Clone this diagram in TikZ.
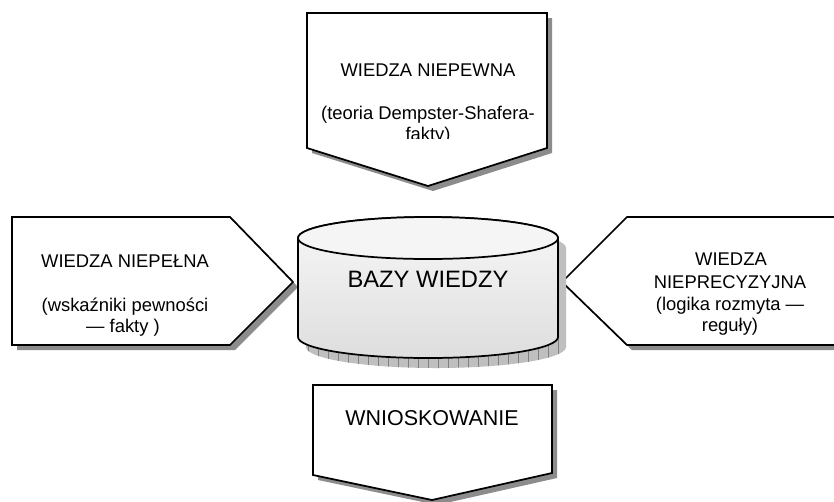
\documentclass[tikz,border=0pt]{standalone}
\usepackage{fontspec}
\setmainfont{Liberation Sans}
\begin{document}
\begin{tikzpicture}[x=0.75pt,y=-0.75pt,
  outline/.style={draw=black,line width=1.3pt,line join=miter},
  dropshadow/.style={fill=black!45},
  lbl/.style={inner sep=0pt,anchor=base,font=\fontsize{13.8pt}{16pt}\selectfont},
  biglbl/.style={inner sep=0pt,anchor=base,font=\fontsize{17.8pt}{21pt}\selectfont},
  midlbl/.style={inner sep=0pt,anchor=base,font=\fontsize{16.1pt}{19pt}\selectfont}]
\clip (0,0) rectangle (834,501);
\fill[white] (0,0) rectangle (834,501);

% --- top arrow: uncertain knowledge ---
\fill[dropshadow,shift={(5,5)}] (307,13) -- (547,13) -- (547,148) -- (428,186) -- (307,148) -- cycle;
\filldraw[outline,fill=white] (307,13) -- (547,13) -- (547,148) -- (428,186) -- (307,148) -- cycle;
\node[lbl] (t1) at (428,76) {WIEDZA NIEPEWNA};
\node[lbl] (t2) at (428,119) {(teoria Dempster-Shafera-};
\begin{scope}
  \clip (307,13) rectangle (547,138);
  \node[lbl] (t3) at (428,140) {fakty)};
\end{scope}

% --- left arrow: incomplete knowledge ---
\fill[dropshadow,shift={(5,5)}] (12,217) -- (230,217) -- (293,282) -- (230,345) -- (12,345) -- cycle;
\filldraw[outline,fill=white] (12,217) -- (230,217) -- (293,282) -- (230,345) -- (12,345) -- cycle;
\node[lbl] (l1) at (125,267) {WIEDZA NIEPEŁNA};
\node[lbl] (l2) at (125,311) {(wskaźniki pewności};
\node[lbl] (l3) at (123,332) {— fakty )};

% --- right arrow: imprecise knowledge ---
\fill[dropshadow,shift={(5,5)}] (562,282) -- (627,217) -- (840,217) -- (840,345) -- (627,345) -- cycle;
\filldraw[outline,fill=white] (562,282) -- (627,217) -- (840,217) -- (840,345) -- (627,345) -- cycle;
\node[lbl] (r1) at (731,265) {WIEDZA};
\node[lbl] (r2) at (730,288) {NIEPRECYZYJNA};
\node[lbl] (r3) at (730,310) {(logika rozmyta —};
\node[lbl] (r4) at (730,331) {reguły)};

% --- bottom arrow: inference ---
\fill[dropshadow,shift={(5,5)}] (313,385) -- (552,385) -- (552,473) -- (432,500) -- (313,475) -- cycle;
\filldraw[outline,fill=white] (313,385) -- (552,385) -- (552,473) -- (432,500) -- (313,475) -- cycle;
\node[midlbl] (b1) at (432,425) {WNIOSKOWANIE};

% --- knowledge base cylinder ---
\begin{scope}[shift={(8,10)}]
  \begin{scope}
    \clip (298,238) -- (298,337) arc[start angle=180,end angle=360,x radius=97.5pt,y radius=15.75pt]
          -- (558,238) arc[start angle=0,end angle=180,x radius=97.5pt,y radius=15.75pt] -- cycle;
    \fill[black!25] (290,200) rectangle (570,380);
    \draw[black!50,line width=0.6pt,step=10] (290,200) grid (570,380);
  \end{scope}
\end{scope}
\shade[top color=black!3,bottom color=black!13]
  (298,238) -- (298,337) arc[start angle=180,end angle=360,x radius=97.5pt,y radius=15.75pt]
  -- (558,238) arc[start angle=0,end angle=180,x radius=97.5pt,y radius=15.75pt] -- cycle;
\draw[outline]
  (298,238) -- (298,337) arc[start angle=180,end angle=360,x radius=97.5pt,y radius=15.75pt]
  -- (558,238) arc[start angle=0,end angle=180,x radius=97.5pt,y radius=15.75pt] -- cycle;
\filldraw[outline,fill=black!4] (428,238) ellipse[x radius=97.5pt,y radius=15.75pt];
\node[biglbl] (c1) at (428,287) {BAZY WIEDZY};
\end{tikzpicture}
\end{document}
